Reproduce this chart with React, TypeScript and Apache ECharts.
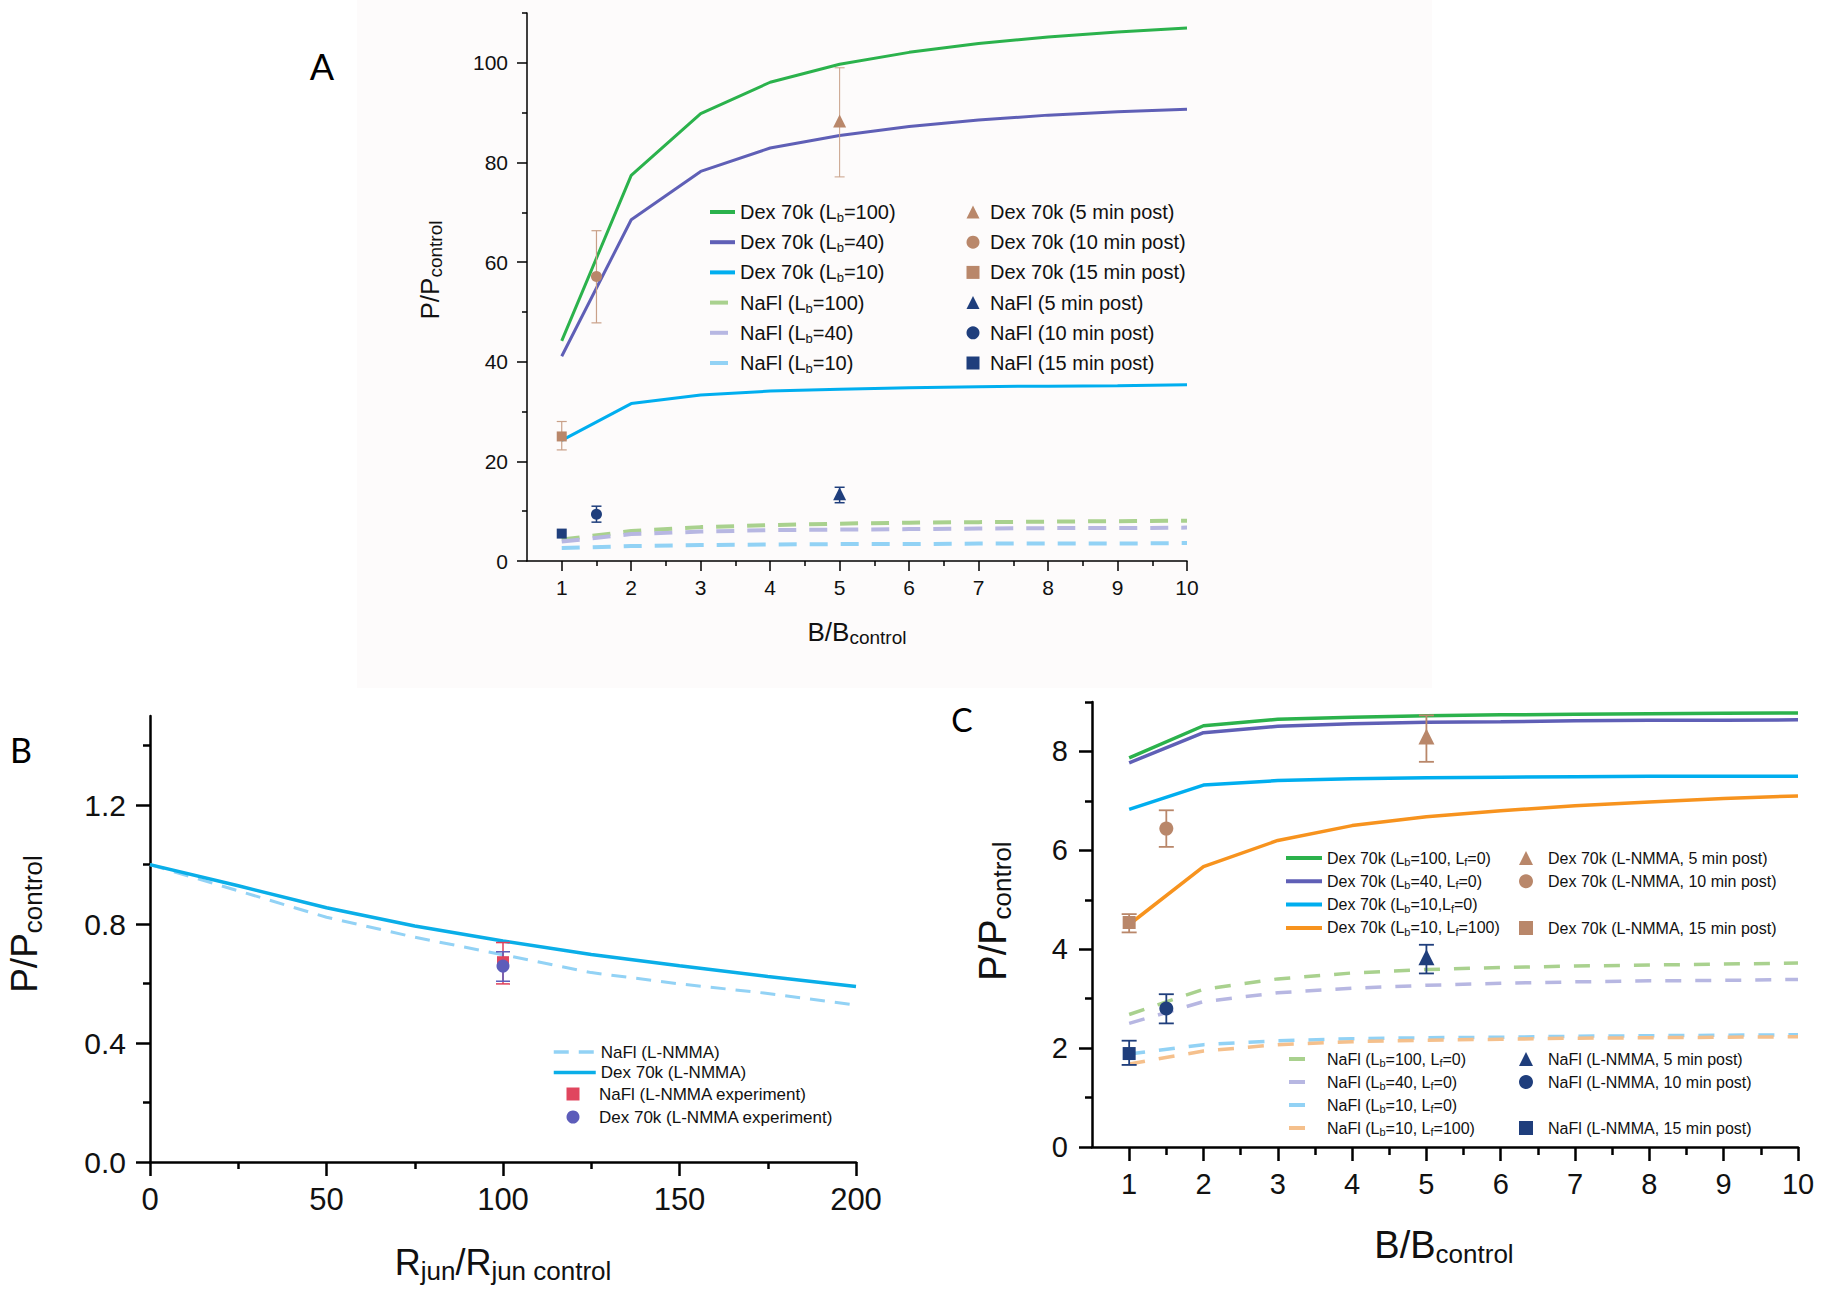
import React, { useEffect, useRef } from "react";
import * as echarts from "echarts";

// ---------- DATA ----------
// Panel A / C x values (B/Bcontrol)
const xB = [1, 2, 3, 4, 5, 6, 7, 8, 9, 10];
const xTicksB = [1, 2, 3, 4, 5, 6, 7, 8, 9, 10];
const xMinorB = [1.5, 2.5, 3.5, 4.5, 5.5, 6.5, 7.5, 8.5, 9.5];

// Panel A model curves
const dexA100 = [44.2, 77.4, 89.8, 96.1, 99.7, 102.1, 103.9, 105.2, 106.2, 107.0];
const dexA40 = [41.1, 68.5, 78.2, 82.9, 85.4, 87.2, 88.5, 89.5, 90.2, 90.7];
const dexA10 = [24.2, 31.6, 33.3, 34.1, 34.5, 34.8, 35.0, 35.1, 35.2, 35.4];
const nafA100 = [4.3, 6.0, 6.8, 7.2, 7.5, 7.7, 7.8, 7.9, 8.0, 8.1];
const nafA40 = [3.9, 5.4, 5.9, 6.2, 6.3, 6.4, 6.5, 6.6, 6.6, 6.7];
const nafA10 = [2.6, 3.0, 3.2, 3.3, 3.4, 3.4, 3.5, 3.5, 3.5, 3.6];
// Panel A experiments: [x, y, low, high]
const dexA5min = [5, 88.3, 77.1, 99.0];
const dexA10min = [1.5, 57.1, 47.8, 66.3];
const dexA15min = [1, 25.0, 22.3, 28.0];
const nafA5min = [5, 13.5, 11.7, 14.8];
const nafA10min = [1.5, 9.4, 7.8, 11.0];
const nafA15min = [1, 5.5, 5.2, 5.8];
const yTicksA = [0, 20, 40, 60, 80, 100];
const yMinorA = [10, 30, 50, 70, 90, 110];

// Panel B
const xR = [0, 25, 50, 75, 100, 125, 150, 175, 200];
const dexB = [1.0, 0.929, 0.855, 0.794, 0.743, 0.698, 0.66, 0.624, 0.59];
const nafB = [1.0, 0.912, 0.823, 0.756, 0.697, 0.637, 0.599, 0.567, 0.528];
const nafBexp = [100, 0.672, 0.599, 0.738];
const dexBexp = [100, 0.659, 0.608, 0.707];
const xTicksR = [0, 50, 100, 150, 200];
const xMinorR = [25, 75, 125, 175];
const yTicksBp = [0, 0.4, 0.8, 1.2];
const yMinorBp = [0.2, 0.6, 1.0, 1.4];

// Panel C model curves
const dexC100 = [7.87, 8.52, 8.65, 8.69, 8.72, 8.74, 8.75, 8.76, 8.77, 8.78];
const dexC40 = [7.77, 8.38, 8.51, 8.56, 8.59, 8.6, 8.62, 8.63, 8.63, 8.64];
const dexC10 = [6.83, 7.32, 7.41, 7.45, 7.47, 7.48, 7.49, 7.5, 7.5, 7.5];
const dexC10f = [4.5, 5.67, 6.2, 6.5, 6.68, 6.8, 6.9, 6.98, 7.05, 7.1];
const nafC100 = [2.68, 3.19, 3.4, 3.52, 3.59, 3.63, 3.66, 3.68, 3.7, 3.72];
const nafC40 = [2.5, 2.94, 3.12, 3.21, 3.27, 3.31, 3.34, 3.36, 3.37, 3.39];
const nafC10 = [1.88, 2.07, 2.15, 2.19, 2.21, 2.22, 2.24, 2.25, 2.26, 2.27];
const nafC10f = [1.68, 1.94, 2.07, 2.13, 2.16, 2.18, 2.2, 2.21, 2.22, 2.23];
const dexC5min = [5, 8.3, 7.79, 8.73];
const dexC10min = [1.5, 6.44, 6.07, 6.81];
const dexC15min = [1, 4.54, 4.34, 4.71];
const nafC5min = [5, 3.84, 3.51, 4.09];
const nafC10min = [1.5, 2.8, 2.5, 3.09];
const nafC15min = [1, 1.89, 1.66, 2.15];
const yTicksC = [0, 2, 4, 6, 8];
const yMinorC = [1, 3, 5, 7, 9];

// ---------- STYLE ----------
const FONT = "'Liberation Sans', Arial, Helvetica, sans-serif";
const GREEN = "#2bb24c";
const PURPLE = "#5f5fb6";
const CYAN = "#00aeef";
const ORANGE = "#f7931e";
const LGREEN = "#a9d18e";
const LPURPLE = "#b7b7e2";
const LBLUE = "#92d2f5";
const LORANGE = "#f5c08c";
const BROWN = "#b9876a";
const BROWN_ERR = "#c9a088";
const NAVY = "#1f3e7c";
const TXT = "#111";

const lineS = (name: string, xs: number[], ys: number[], ai: number, color: string, width: number, dash?: number[]) => ({
  type: "line",
  name,
  xAxisIndex: ai,
  yAxisIndex: ai,
  data: xs.map((x, i) => [x, ys[i]]),
  symbol: "none",
  showSymbol: false,
  silent: true,
  z: 2,
  lineStyle: { color, width, type: dash ? dash : "solid", cap: "butt" },
  itemStyle: { color },
});

const scatS = (name: string, pt: number[], ai: number, color: string, symbol: string, size: number) => ({
  type: "scatter",
  name,
  xAxisIndex: ai,
  yAxisIndex: ai,
  data: [[pt[0], pt[1]]],
  symbol,
  symbolSize: size,
  silent: true,
  z: 6,
  itemStyle: { color, opacity: 1 },
});

const errS = (pt: number[], ai: number, color: string, width: number, cap: number) => ({
  type: "custom",
  xAxisIndex: ai,
  yAxisIndex: ai,
  data: [pt],
  silent: true,
  z: 4,
  encode: { x: 0, y: 1 },
  renderItem: (params: any, api: any) => {
    const x = api.value(0);
    const lo = api.value(2);
    const hi = api.value(3);
    const p1 = api.coord([x, hi]);
    const p2 = api.coord([x, lo]);
    const h = cap / 2;
    const st = { stroke: color, lineWidth: width };
    return {
      type: "group",
      children: [
        { type: "line", shape: { x1: p1[0], y1: p1[1], x2: p2[0], y2: p2[1] }, style: st },
        { type: "line", shape: { x1: p1[0] - h, y1: p1[1], x2: p1[0] + h, y2: p1[1] }, style: st },
        { type: "line", shape: { x1: p2[0] - h, y1: p2[1], x2: p2[0] + h, y2: p2[1] }, style: st },
      ],
    };
  },
});

const mkAxes = (
  grid: number,
  min: number,
  max: number,
  major: number[],
  minor: number[],
  pos: string,
  lw: number,
  majLen: number,
  minLen: number,
  fontSize: number,
  margin: number,
  fmt?: (v: number) => string
) => [
  {
    type: "value",
    gridIndex: grid,
    min,
    max,
    position: pos,
    axisLine: { show: true, onZero: false, lineStyle: { color: "#000", width: lw } },
    axisTick: { show: true, inside: false, length: majLen, customValues: major, lineStyle: { color: "#000", width: lw } },
    axisLabel: {
      show: true,
      customValues: major,
      fontSize,
      color: TXT,
      margin,
      fontFamily: FONT,
      formatter: fmt ? fmt : (v: number) => String(v),
    },
    splitLine: { show: false },
  },
  {
    type: "value",
    gridIndex: grid,
    min,
    max,
    position: pos,
    offset: 0,
    axisLine: { show: false },
    axisTick: { show: true, inside: false, length: minLen, customValues: minor, lineStyle: { color: "#000", width: lw } },
    axisLabel: { show: false },
    splitLine: { show: false },
  },
];

const fmtName = (name: string) => "{n|" + name.replace(/_(\w)/g, "}{s|$1}{n|") + "}";

const mkLegend = (
  data: string[],
  left: number,
  top: number,
  iw: number,
  ih: number,
  gap: number,
  fs: number,
  lh: number,
  sfs: number,
  slh: number,
  padLeft: number,
  lineWidth: number
) => ({
  show: true,
  data,
  left,
  top,
  orient: "vertical",
  itemWidth: iw,
  itemHeight: ih,
  itemGap: gap,
  padding: 0,
  selectedMode: false,
  formatter: fmtName,
  ...(lineWidth > 0 ? { itemStyle: { opacity: 0 }, lineStyle: { width: lineWidth } } : {}),
  textStyle: {
    color: TXT,
    fontFamily: FONT,
    fontSize: fs,
    lineHeight: lh,
    padding: [0, 0, 0, padLeft],
    rich: {
      n: { fontSize: fs, lineHeight: lh, fontFamily: FONT, color: TXT },
      s: { fontSize: sfs, lineHeight: slh, verticalAlign: "bottom", fontFamily: FONT, color: TXT },
    },
  },
});

const axisTitle = (
  text: string,
  x: number,
  y: number,
  rotate: boolean,
  mfs: number,
  mlh: number,
  sfs: number,
  slh: number
) => ({
  type: "text",
  x,
  y,
  rotation: rotate ? Math.PI / 2 : 0,
  silent: true,
  z: 10,
  style: {
    text,
    align: "center",
    verticalAlign: "middle",
    rich: {
      m: { fontSize: mfs, lineHeight: mlh, fontFamily: FONT, fill: TXT, color: TXT },
      s: { fontSize: sfs, lineHeight: slh, verticalAlign: "bottom", fontFamily: FONT, fill: TXT, color: TXT },
    },
  },
});

const letter = (t: string, x: number, y: number, fs: number) => ({
  type: "text",
  x,
  y,
  silent: true,
  z: 10,
  style: { text: t, fontSize: fs, fontFamily: "Lato, 'Open Sans', sans-serif", fill: "#000", align: "center", verticalAlign: "middle" },
});

// ---------- OPTION ----------
const nA = {
  d100: "Dex 70k (L_b=100)",
  d40: "Dex 70k (L_b=40)",
  d10: "Dex 70k (L_b=10)",
  n100: "NaFl (L_b=100)",
  n40: "NaFl (L_b=40)",
  n10: "NaFl (L_b=10)",
  d5: "Dex 70k (5 min post)",
  d10m: "Dex 70k (10 min post)",
  d15m: "Dex 70k (15 min post)",
  n5: "NaFl (5 min post)",
  n10m: "NaFl (10 min post)",
  n15m: "NaFl (15 min post)",
};
const nB = {
  nl: "NaFl (L-NMMA)",
  dl: "Dex 70k (L-NMMA)",
  ne: "NaFl (L-NMMA experiment)",
  de: "Dex 70k (L-NMMA experiment)",
};
const nC = {
  d100: "Dex 70k (L_b=100, L_f=0)",
  d40: "Dex 70k (L_b=40, L_f=0)",
  d10: "Dex 70k (L_b=10,L_f=0)",
  d10f: "Dex 70k (L_b=10, L_f=100)",
  n100: "NaFl (L_b=100, L_f=0)",
  n40: "NaFl (L_b=40, L_f=0)",
  n10: "NaFl (L_b=10, L_f=0)",
  n10f: "NaFl (L_b=10, L_f=100)",
  d5: "Dex 70k (L-NMMA, 5 min post)",
  d10m: "Dex 70k (L-NMMA, 10 min post)",
  d15m: "Dex 70k (L-NMMA, 15 min post)",
  n5: "NaFl (L-NMMA, 5 min post)",
  n10m: "NaFl (L-NMMA, 10 min post)",
  n15m: "NaFl (L-NMMA, 15 min post)",
};

const dA = [18, 13];
const dB = [15, 10];
const dC = [16, 14];

const option: any = {
  animation: false,
  backgroundColor: "#ffffff",
  grid: [
    { left: 527, top: 13, width: 660, height: 548, containLabel: false, outerBoundsMode: "none" },
    { left: 150, top: 716, width: 706, height: 446, containLabel: false, outerBoundsMode: "none" },
    { left: 1092, top: 702, width: 706, height: 445, containLabel: false, outerBoundsMode: "none" },
  ],
  xAxis: [
    ...mkAxes(0, 0.5, 10, xTicksB, xMinorB, "bottom", 1.5, 10, 5, 21, 16),
    ...mkAxes(1, 0, 200, xTicksR, xMinorR, "bottom", 2.5, 14, 7, 31, 22),
    ...mkAxes(2, 0.5, 10, xTicksB, xMinorB, "bottom", 2.5, 14, 8, 29, 22),
  ],
  yAxis: [
    ...mkAxes(0, 0, 110, yTicksA, yMinorA, "left", 1.5, 10, 5, 21, 19),
    ...mkAxes(1, 0, 1.5, yTicksBp, yMinorBp, "left", 2.5, 14, 7, 30, 24, (v: number) => v.toFixed(1)),
    ...mkAxes(2, 0, 9, yTicksC, yMinorC, "left", 2.5, 13, 7, 29, 24),
  ],
  legend: [
    mkLegend([nA.d100, nA.d40, nA.d10, nA.n100, nA.n40, nA.n10], 708, 200, 25, 14, 6.2, 20, 24, 13, 13, 0, 4),
    mkLegend([nA.d5, nA.d10m, nA.d15m, nA.n5, nA.n10m, nA.n15m], 966.5, 200, 13, 13, 6.2, 20, 24, 13, 13, 5.5, 0),
    mkLegend([nB.nl, nB.dl], 552, 1042, 42, 12, 0.5, 17, 20, 12, 12, 0, 3.5),
    mkLegend([nB.ne, nB.de], 566.5, 1084, 13, 13, 3, 17, 20, 12, 12, 14.5, 0),
    mkLegend([nC.d100, nC.d40, nC.d10, nC.d10f], 1284, 848.5, 36, 12, 4.3, 16, 19, 11, 10, 0, 4),
    mkLegend([nC.d5, nC.d10m], 1519, 848.5, 14, 14, 4.3, 16, 19, 11, 10, 10, 0),
    mkLegend([nC.d15m], 1519, 918.5, 14, 14, 4.3, 16, 19, 11, 10, 10, 0),
    mkLegend([nC.n100, nC.n40, nC.n10, nC.n10f], 1287, 1049.5, 16, 12, 4, 16, 19, 11, 10, 17, 4),
    mkLegend([nC.n5, nC.n10m], 1519, 1049.5, 14, 14, 4, 16, 19, 11, 10, 10, 0),
    mkLegend([nC.n15m], 1519, 1118.5, 14, 14, 4, 16, 19, 11, 10, 10, 0),
  ],
  graphic: {
    elements: [
      { type: "rect", silent: true, z: -10, shape: { x: 357, y: 0, width: 1075, height: 688 }, style: { fill: "#fdfbfb" } },
      letter("A", 322, 66, 36),
      letter("B", 21, 749, 34),
      letter("C", 962, 719, 32),
      axisTitle("{m|P/P}{s|control}", 430, 270, true, 26, 30, 19, 17),
      axisTitle("{m|B/B}{s|control}", 857, 632, false, 26, 30, 19, 17),
      axisTitle("{m|P/P}{s|control}", 24, 924, true, 37, 44, 26, 19),
      axisTitle("{m|R}{s|jun}{m|/R}{s|jun control}", 503, 1262, false, 36, 44, 26, 19),
      axisTitle("{m|P/P}{s|control}", 993, 911, true, 38, 44, 26, 18),
      axisTitle("{m|B/B}{s|control}", 1444, 1245, false, 38, 44, 26, 18),
    ],
  },
  series: [
    // Panel A
    lineS(nA.n100, xB, nafA100, 0, LGREEN, 4, dA),
    lineS(nA.n40, xB, nafA40, 0, LPURPLE, 4, dA),
    lineS(nA.n10, xB, nafA10, 0, LBLUE, 4, dA),
    lineS(nA.d10, xB, dexA10, 0, CYAN, 3),
    lineS(nA.d40, xB, dexA40, 0, PURPLE, 3),
    lineS(nA.d100, xB, dexA100, 0, GREEN, 3),
    errS(dexA5min, 0, BROWN_ERR, 1, 10),
    errS(dexA10min, 0, BROWN_ERR, 1.2, 10),
    errS(dexA15min, 0, BROWN_ERR, 1.2, 10),
    errS(nafA5min, 0, NAVY, 1.5, 10),
    errS(nafA10min, 0, NAVY, 1.5, 10),
    scatS(nA.d5, dexA5min, 0, BROWN, "triangle", 13),
    scatS(nA.d10m, dexA10min, 0, BROWN, "circle", 11),
    scatS(nA.d15m, dexA15min, 0, BROWN, "rect", 10),
    scatS(nA.n5, nafA5min, 0, NAVY, "triangle", 13),
    scatS(nA.n10m, nafA10min, 0, NAVY, "circle", 11),
    scatS(nA.n15m, nafA15min, 0, NAVY, "rect", 10),
    // Panel B
    lineS(nB.nl, xR, nafB, 2, LBLUE, 3, dB),
    lineS(nB.dl, xR, dexB, 2, "#0aaee8", 3.5),
    errS(nafBexp, 2, "#e0405a", 1.5, 14),
    errS(dexBexp, 2, "#5d5dba", 1.5, 14),
    scatS(nB.ne, nafBexp, 2, "#e0465e", "rect", 12),
    scatS(nB.de, dexBexp, 2, "#5d5dba", "circle", 13),
    // Panel C
    lineS(nC.n100, xB, nafC100, 4, LGREEN, 3.5, dC),
    lineS(nC.n40, xB, nafC40, 4, LPURPLE, 3.5, dC),
    lineS(nC.n10, xB, nafC10, 4, LBLUE, 3.5, dC),
    lineS(nC.n10f, xB, nafC10f, 4, LORANGE, 3.5, dC),
    lineS(nC.d10f, xB, dexC10f, 4, ORANGE, 3.5),
    lineS(nC.d10, xB, dexC10, 4, CYAN, 3.5),
    lineS(nC.d40, xB, dexC40, 4, PURPLE, 3.5),
    lineS(nC.d100, xB, dexC100, 4, GREEN, 3.5),
    errS(dexC5min, 4, BROWN, 1.8, 15),
    errS(dexC10min, 4, BROWN, 1.8, 15),
    errS(dexC15min, 4, BROWN, 1.8, 15),
    errS(nafC5min, 4, NAVY, 1.8, 15),
    errS(nafC10min, 4, NAVY, 1.8, 15),
    errS(nafC15min, 4, NAVY, 1.8, 15),
    scatS(nC.d5, dexC5min, 4, BROWN, "triangle", 16),
    scatS(nC.d10m, dexC10min, 4, BROWN, "circle", 14),
    scatS(nC.d15m, dexC15min, 4, BROWN, "rect", 13),
    scatS(nC.n5, nafC5min, 4, NAVY, "triangle", 16),
    scatS(nC.n10m, nafC10min, 4, NAVY, "circle", 14),
    scatS(nC.n15m, nafC15min, 4, NAVY, "rect", 13),
  ],
};

export default function App() {
  const ref = useRef<HTMLDivElement>(null);
  useEffect(() => {
    document.body.style.margin = "0";
    if (!ref.current) return;
    const chart = echarts.init(ref.current, null, { renderer: "svg" });
    chart.setOption(option);
    return () => {
      chart.dispose();
    };
  }, []);
  return <div ref={ref} style={{ width: 1824, height: 1297, background: "#ffffff" }} />;
}
